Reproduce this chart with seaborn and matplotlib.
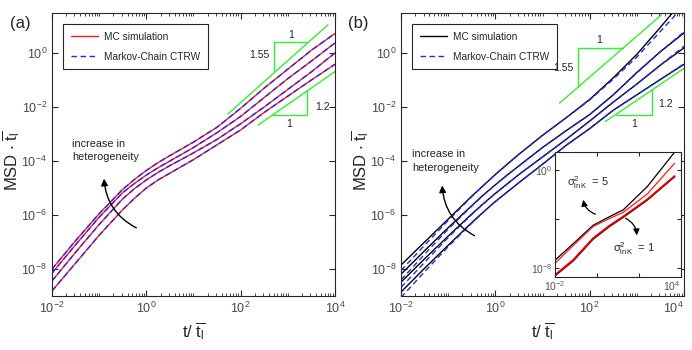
import numpy as np
import pandas as pd
import matplotlib
matplotlib.use("Agg")
import matplotlib.pyplot as plt
import matplotlib.ticker as mticker
from matplotlib.lines import Line2D
import seaborn as sns

# log10 of time grid shared by the main-panel curves
log_t = [-2, -1.5, -1, -0.5, -0.25, 0, 0.25, 0.5, 1, 1.5, 2, 2.5, 3, 3.5, 4]

# panel (a): log10 MSD, four heterogeneity levels (MC and CTRW overlap)
a_c1 = [-8.0, -6.95, -5.95, -5.05, -4.68, -4.35, -4.06, -3.8, -3.3, -2.75, -2.05, -1.3, -0.6, 0.1, 0.72]
a_c2 = [-8.15, -7.1, -6.08, -5.17, -4.83, -4.52, -4.25, -4.0, -3.5, -2.95, -2.35, -1.65, -0.95, -0.3, 0.37]
a_c3 = [-8.44, -7.38, -6.35, -5.4, -5.02, -4.7, -4.42, -4.17, -3.7, -3.2, -2.62, -2.0, -1.35, -0.7, 0.0]
a_c4 = [-8.81, -7.78, -6.75, -5.8, -5.38, -5.0, -4.7, -4.45, -3.95, -3.4, -2.85, -2.2, -1.6, -1.0, -0.42]

# panel (b): MC simulation (black)
b_mc1 = [-7.85, -7.0, -6.15, -5.3, -4.9, -4.5, -4.12, -3.75, -3.05, -2.4, -1.72, -0.92, -0.05, 0.95, 2.0]
b_mc2 = [-8.19, -7.32, -6.47, -5.65, -5.25, -4.88, -4.52, -4.18, -3.5, -2.88, -2.28, -1.55, -0.72, 0.05, 0.74]
b_mc3 = [-8.48, -7.62, -6.78, -5.96, -5.57, -5.2, -4.85, -4.5, -3.85, -3.2, -2.52, -1.82, -1.15, -0.45, 0.19]
b_mc4 = [-8.85, -7.97, -7.12, -6.28, -5.88, -5.5, -5.15, -4.8, -4.12, -3.42, -2.8, -2.12, -1.55, -0.98, -0.42]
# panel (b): Markov-chain CTRW (blue dashed)
b_ct1 = [-8.05, -7.12, -6.2, -5.32, -4.9, -4.5, -4.12, -3.75, -3.05, -2.4, -1.74, -0.97, -0.15, 0.8, 1.75]
b_ct2 = [-8.4, -7.45, -6.52, -5.67, -5.26, -4.88, -4.52, -4.18, -3.5, -2.88, -2.28, -1.55, -0.74, 0.05, 0.78]
b_ct3 = [-8.68, -7.75, -6.83, -5.98, -5.58, -5.2, -4.85, -4.5, -3.85, -3.2, -2.52, -1.82, -1.15, -0.45, 0.25]
b_ct4 = [-9.05, -8.1, -7.17, -6.3, -5.89, -5.5, -5.15, -4.8, -4.12, -3.42, -2.8, -2.12, -1.55, -0.98, -0.4]

# inset: sigma^2_lnK = 5 and = 1
in_t = [-2, -1.13, -0.18, 0.6, 1.25, 2.4, 3.7]
in_s5_mc = [-7.35, -6.0, -4.5, -3.8, -3.25, -1.35, 1.45]
in_s5_ct = [-7.6, -6.15, -4.6, -3.95, -3.45, -1.95, 0.55]
in_s1_mc = [-8.62, -7.4, -5.63, -4.6, -3.86, -2.45, -0.55]
in_s1_ct = [-8.55, -7.33, -5.56, -4.53, -3.8, -2.4, -0.5]

# slope guides: (log t, log MSD) endpoints
a_guide_hi = ([1.73, 3.85], [-2.26, 1.04])
a_guide_lo = ([2.37, 4.0], [-2.67, -0.69])
b_guide_hi = ([1.36, 3.52], [-1.86, 1.41])
b_guide_lo = ([2.33, 4.0], [-2.54, -0.57])

sns.set_style("ticks")
plt.rcParams["font.family"] = ["Liberation Sans", "DejaVu Sans"]
plt.rcParams["mathtext.fontset"] = "custom"
plt.rcParams["mathtext.rm"] = "Liberation Sans"
plt.rcParams["mathtext.it"] = "Liberation Sans:italic"
plt.rcParams["mathtext.default"] = "regular"

RED = "#ff1a1a"
BLUE = "#2828ee"
GREEN = "#33ee33"
GREY = "#262626"


def curve(lt, lm):
    return pd.DataFrame({"t": 10 ** np.array(lt, float), "msd": 10 ** np.array(lm, float)})


def draw(ax, lt, lm, color, ls="-", lw=1.0):
    df = curve(lt, lm)
    kw = dict(dashes=(4, 2.5)) if ls == "--" else {}
    sns.lineplot(data=df, x="t", y="msd", ax=ax, color=color, lw=lw,
                 sort=False, estimator=None, legend=False, **kw)


def style_main(ax):
    ax.set(xscale="log", yscale="log", xlim=(1e-2, 1e4), ylim=(10 ** -9.0, 10 ** 1.48))
    ax.set_xticks([1e-2, 1e0, 1e2, 1e4])
    ax.set_yticks([1e-8, 1e-6, 1e-4, 1e-2, 1e0])
    ax.xaxis.set_minor_locator(mticker.LogLocator(base=10, subs=np.arange(1, 10), numticks=30))
    ax.xaxis.set_minor_formatter(mticker.NullFormatter())
    ax.yaxis.set_minor_locator(mticker.NullLocator())
    ax.tick_params(which="both", direction="in", top=True, right=True, colors=GREY,
                   labelcolor="#4a4a4a", labelsize=9)
    ax.tick_params(which="major", length=4)
    ax.tick_params(which="minor", length=2)
    for s in ax.spines.values():
        s.set_color(GREY)
        s.set_linewidth(0.8)
    ax.set_xlabel(r"t/ $\overline{t_l}$", fontsize=12)
    ax.set_ylabel(r"MSD $\cdot$ $\overline{t_l}$", fontsize=12)
    ax.xaxis.set_label_coords(0.5, -0.085)
    ax.yaxis.set_label_coords(-0.105, 0.48)


def slope_guides(ax, hi, lo, tri_hi, tri_lo, labels):
    for g in (hi, lo):
        ax.plot(10 ** np.array(g[0]), 10 ** np.array(g[1]), color=GREEN, lw=1)
    (x0, x1), y0, yt = tri_hi
    ax.plot(10 ** np.array([x0, x0, x1]), 10 ** np.array([y0, yt, yt]), color=GREEN, lw=1)
    (x0, x1), yb, y1 = tri_lo
    ax.plot(10 ** np.array([x0, x1, x1]), 10 ** np.array([yb, yb, y1]), color=GREEN, lw=1)
    for (x, y, s, ha) in labels:
        ax.text(10 ** x, 10 ** y, s, ha=ha, va="center", fontsize=7.5, zorder=6)


fig = plt.figure(figsize=(6.92, 3.5), dpi=100)
ax_a = fig.add_axes([0.0751, 0.154, 0.409, 0.809])
ax_b = fig.add_axes([0.5795, 0.154, 0.409, 0.809])

# panel (a)
for c in (a_c1, a_c2, a_c3, a_c4):
    draw(ax_a, log_t, c, RED)
for c in (a_c1, a_c2, a_c3, a_c4):
    draw(ax_a, log_t, c, BLUE, ls="--")
style_main(ax_a)
slope_guides(ax_a, a_guide_hi, a_guide_lo,
             ([2.71, 3.41], -0.72, 0.4), ([2.66, 3.41], -2.3, -1.39),
             [(3.06, 0.68, "1", "center"), (2.62, -0.08, "1.55", "right"),
              (3.58, -2.0, "1.2", "left"), (3.03, -2.62, "1", "center")])

# panel (b)
for c in (b_mc1, b_mc2, b_mc3, b_mc4):
    draw(ax_b, log_t, c, "black")
for c in (b_ct1, b_ct2, b_ct3, b_ct4):
    draw(ax_b, log_t, c, BLUE, ls="--")
style_main(ax_b)
ax_b.get_xticklabels()[-1].set_ha("right")
slope_guides(ax_b, b_guide_hi, b_guide_lo,
             ([1.76, 2.7], -1.27, 0.17), ([2.56, 3.32], -2.3, -1.34),
             [(2.2, 0.47, "1", "center"), (1.66, -0.55, "1.55", "right"),
              (3.46, -1.9, "1.2", "left"), (2.95, -2.62, "1", "center")])

# legends
for ax, col in ((ax_a, RED), (ax_b, "black")):
    handles = [Line2D([], [], color=col, lw=1),
               Line2D([], [], color=BLUE, lw=1, ls=(0, (4, 2.5)))]
    leg = ax.legend(handles, ["MC simulation", "Markov-Chain CTRW"], loc="upper left",
                    bbox_to_anchor=(0.039, 0.961), borderaxespad=0, fontsize=7.3,
                    fancybox=False, framealpha=1, edgecolor=GREY, handlelength=2.7,
                    borderpad=0.75, labelspacing=1.0, handletextpad=0.6)
    leg.get_frame().set_linewidth(0.8)
    leg.set_zorder(4)

# heterogeneity annotations
for ax, tx, ty, start, end in ((ax_a, -1.58, -3.6, (-0.16, -6.52), (-0.9, -4.55)),
                               (ax_b, -1.77, -4.0, (-0.39, -6.81), (-1.13, -4.8))):
    ax.text(10 ** tx, 10 ** ty, "increase in\nheterogeneity", ha="left", va="center",
            fontsize=7.8, linespacing=1.4, color="#222222")
    ax.annotate("", xy=(10 ** end[0], 10 ** end[1]), xytext=(10 ** start[0], 10 ** start[1]),
                arrowprops=dict(arrowstyle="-|>", color="black", lw=1,
                                connectionstyle="arc3,rad=-0.3", mutation_scale=10))

# inset
ax_in = fig.add_axes([0.802, 0.209, 0.182, 0.357])
ax_in.set_facecolor("white")
draw(ax_in, in_t, in_s5_mc, "black", lw=0.9)
draw(ax_in, in_t, in_s5_ct, RED, lw=0.9)
draw(ax_in, in_t, in_s1_mc, "black", lw=1.0)
draw(ax_in, in_t, in_s1_ct, "#e00000", lw=1.4)
ax_in.set(xscale="log", yscale="log", xlim=(1e-2, 1e4), ylim=(10 ** -8.7, 10 ** 1.47),
          xlabel="", ylabel="")
ax_in.set_xticks([1e-2, 1e0, 1e2, 1e4])
ax_in.set_xticklabels([r"$10^{-2}$", "", "", r"$10^{4}$"])
ax_in.get_xticklabels()[-1].set_ha("right")
ax_in.set_yticks([1e-8, 1e-4, 1e0])
ax_in.set_yticklabels([r"$10^{-8}$", "", r"$10^{0}$"])
ax_in.xaxis.set_minor_locator(mticker.NullLocator())
ax_in.yaxis.set_minor_locator(mticker.NullLocator())
ax_in.tick_params(direction="in", top=True, right=True, length=3, colors=GREY,
                  labelcolor="#555555", labelsize=7.5, pad=2)
for s in ax_in.spines.values():
    s.set_color(GREY)
    s.set_linewidth(0.8)
ax_in.text(10 ** -1.45, 10 ** -1.06, r"$\sigma^2_{lnK}$  = 5", fontsize=8, va="center")
ax_in.text(10 ** 0.76, 10 ** -6.4, r"$\sigma^2_{lnK}$  = 1", fontsize=8, va="center")
ax_in.annotate("", xy=(10 ** -0.67, 10 ** -2.2), xytext=(10 ** 0.05, 10 ** -3.67),
               arrowprops=dict(arrowstyle="-|>", color="black", lw=0.9,
                               connectionstyle="arc3,rad=-0.35", mutation_scale=9))
ax_in.annotate("", xy=(10 ** 1.9, 10 ** -5.55), xytext=(10 ** 1.24, 10 ** -3.84),
               arrowprops=dict(arrowstyle="-|>", color="black", lw=0.9,
                               connectionstyle="arc3,rad=-0.35", mutation_scale=9))

fig.text(0.014, 0.934, "(a)", fontsize=12, va="center")
fig.text(0.503, 0.934, "(b)", fontsize=12, va="center")

fig.savefig("out.png", dpi=100)
